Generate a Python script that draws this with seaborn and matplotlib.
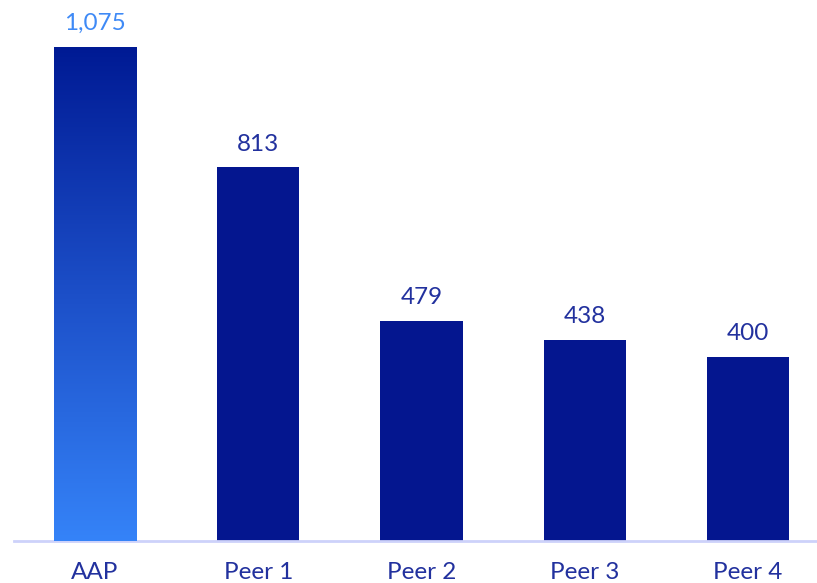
import matplotlib
matplotlib.use("Agg")
import matplotlib.pyplot as plt
import seaborn as sns
import numpy as np
import pandas as pd
from matplotlib.colors import LinearSegmentedColormap

categories = ["AAP", "Peer 1", "Peer 2", "Peer 3", "Peer 4"]
values = [1075, 813, 479, 438, 400]
labels = ["1,075", "813", "479", "438", "400"]

navy = "#04168F"
light = "#3583F8"
text_navy = "#22319E"

sns.set_theme(style="white")
plt.rcParams["font.family"] = ["Lato", "DejaVu Sans"]

df = pd.DataFrame({"cat": categories, "val": values})

fig = plt.figure(figsize=(8.17, 5.83), dpi=100)
ax = fig.add_axes([13.5 / 817, 42 / 583, 816 / 817, 541 / 583])

sns.barplot(data=df, x="cat", y="val", color=navy, width=0.503, ax=ax,
            saturation=1, edgecolor="none", linewidth=0)

ax.set_ylim(0, 541 / 0.4595)
ax.set_xlim(-0.5, 4.5)

# gradient for first bar
patch = ax.patches[0]
x0, y0 = patch.get_x(), patch.get_y()
w, h = patch.get_width(), patch.get_height()
cmap = LinearSegmentedColormap.from_list("g", [light, "#1C4FC8", "#001A94"])
grad = np.linspace(0, 1, 256).reshape(-1, 1)
im = ax.imshow(grad, extent=[x0, x0 + w, y0, y0 + h], origin="lower",
               aspect="auto", cmap=cmap, zorder=3)
im.set_clip_path(patch)
patch.set_facecolor("none")
ax.set_xlim(-0.5, 4.5)
ax.set_ylim(0, 541 / 0.4595)

for i, (v, lab) in enumerate(zip(values, labels)):
    ax.text(i, v + 28, lab, ha="center", va="bottom", fontsize=17.5,
            color=("#3F8AF6" if i == 0 else text_navy))

for s in ["top", "right", "left"]:
    ax.spines[s].set_visible(False)
ax.spines["bottom"].set_color("#CDD2FA")
ax.spines["bottom"].set_linewidth(2)
ax.set_yticks([])
ax.set_xlabel("")
ax.set_ylabel("")
ax.tick_params(axis="x", length=0, labelsize=17.5, labelcolor=text_navy, pad=15)

fig.savefig("out.png", dpi=100)
